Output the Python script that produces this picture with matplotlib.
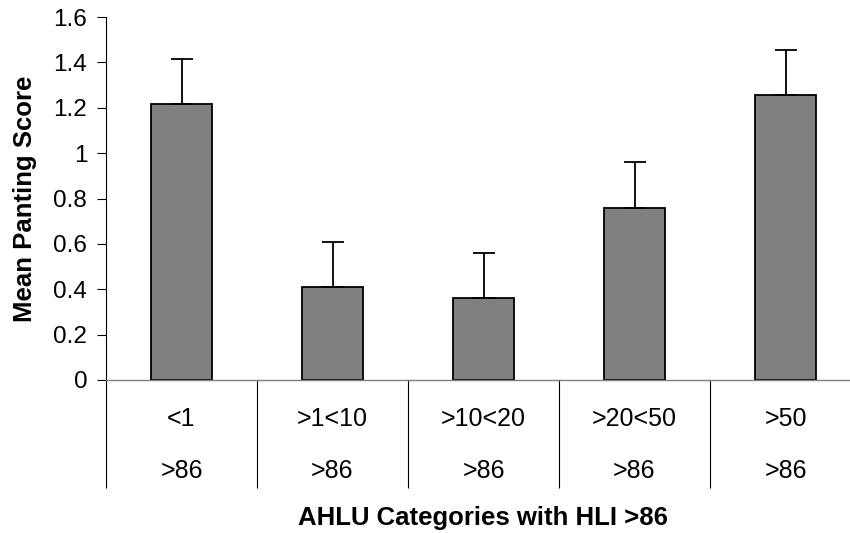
import numpy as np
import matplotlib
matplotlib.use("Agg")
import matplotlib.pyplot as plt

# ---------------- data ----------------
kategori = ["<1", ">1<10", ">10<20", ">20<50", ">50"]
hli = [">86", ">86", ">86", ">86", ">86"]
skor = [1.215, 0.41, 0.36, 0.76, 1.255]
galat = [0.2, 0.2, 0.2, 0.2, 0.2]

plt.rcParams["font.family"] = ["Liberation Sans", "DejaVu Sans"]

fig = plt.figure(figsize=(8.5, 5.33), dpi=100)
ax = fig.add_axes([106/850, 1 - 380/533, 755/850, 363/533])

x = np.arange(len(kategori))
ax.bar(x, skor, width=0.41, color="#808080", edgecolor="black", linewidth=1.3, zorder=2)
ax.errorbar(x, skor, yerr=[np.zeros(len(skor)), galat], fmt="none",
            ecolor="black", elinewidth=1.3, capsize=8, capthick=1.3, zorder=3)

ax.set_xlim(-0.5, len(kategori) - 0.5)
ax.set_ylim(0, 1.6)
ax.set_yticks(np.arange(0, 1.61, 0.2))
ax.set_yticklabels(["0", "0.2", "0.4", "0.6", "0.8", "1", "1.2", "1.4", "1.6"])
ax.tick_params(axis="y", direction="out", length=6.5, width=0.8, pad=7, labelsize=17.5)

# category separators as long minor ticks
ax.set_xticks([])
ax.set_xticks(np.arange(-0.5, len(kategori), 1.0), minor=True)
ax.tick_params(axis="x", which="minor", direction="out", length=78, width=0.8, color="black")

for s in ["top", "right"]:
    ax.spines[s].set_visible(False)
ax.spines["left"].set_linewidth(0.8)
ax.spines["bottom"].set_color("#808080")
ax.spines["bottom"].set_linewidth(1.0)

trans = ax.get_xaxis_transform()
for i in range(len(kategori)):
    ax.text(i, -39/363, kategori[i], transform=trans, ha="center", va="center", fontsize=18)
    ax.text(i, -91/363, hli[i], transform=trans, ha="center", va="center", fontsize=18)

fig.text(483/850, 1 - 518/533, "AHLU Categories with HLI >86", ha="center", va="center",
         fontsize=18.5, fontweight="bold")
fig.text(25/850, 1 - 198.5/533, "Mean Panting Score", ha="center", va="center",
         rotation=90, fontsize=18.5, fontweight="bold")

fig.savefig("out.png", dpi=100)
